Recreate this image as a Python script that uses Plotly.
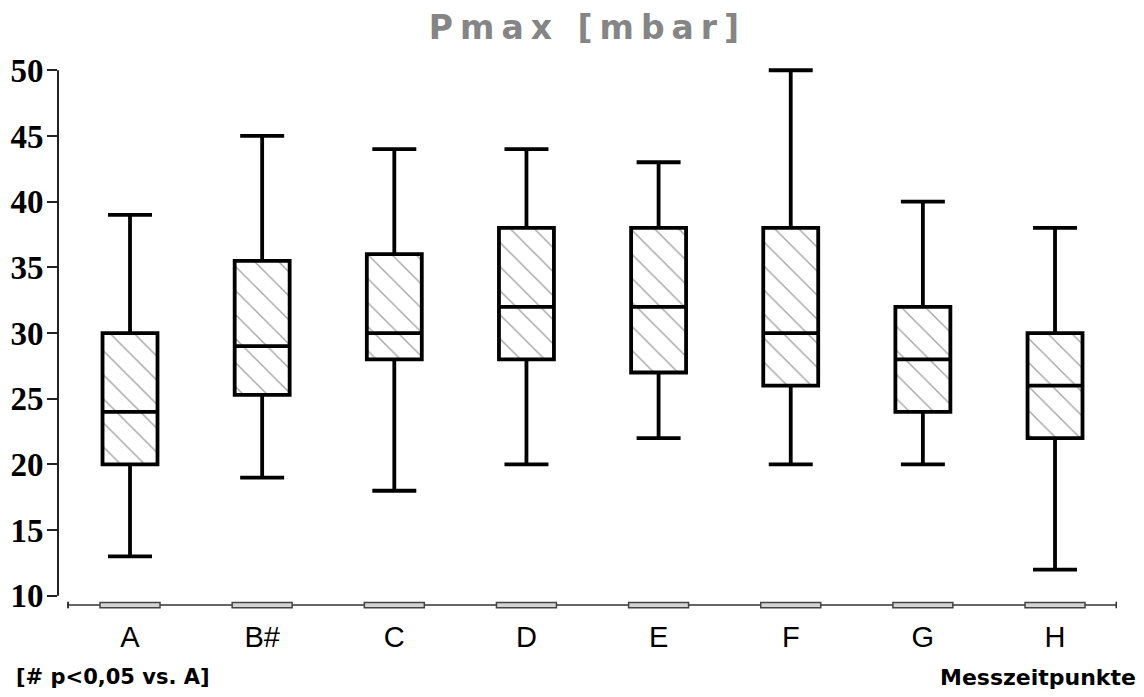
import plotly.graph_objects as go

categories = ["A", "B#", "C", "D", "E", "F", "G", "H"]
minimum = [13, 19, 18, 20, 22, 20, 20, 12]
q1 = [20, 25.3, 28, 28, 27, 26, 24, 22]
median = [24, 29, 30, 32, 32, 30, 28, 26]
q3 = [30, 35.5, 36, 38, 38, 38, 32, 30]
maximum = [39, 45, 44, 44, 43, 50, 40, 38]
y_ticks = [10, 15, 20, 25, 30, 35, 40, 45, 50]

xpos = list(range(len(categories)))
box_w = 0.416

fig = go.Figure()

# hatched box bodies
fig.add_trace(go.Bar(
    x=xpos, y=[b - a for a, b in zip(q1, q3)], base=q1, width=box_w,
    marker=dict(color="white", line=dict(width=0),
                pattern=dict(shape="\\", fgcolor="#4a4a4a", bgcolor="white",
                             size=17, solidity=0.08)),
    hoverinfo="skip", showlegend=False,
))

# box outlines, medians, whiskers
fig.add_trace(go.Box(
    x=xpos, q1=q1, median=median, q3=q3, lowerfence=minimum, upperfence=maximum,
    width=box_w, whiskerwidth=0.8, fillcolor="rgba(0,0,0,0)",
    line=dict(color="black", width=3.8), boxpoints=False,
    hoverinfo="skip", showlegend=False,
))

shapes = []
# y axis line from 10 to 50
shapes.append(dict(type="line", xref="paper", yref="y", x0=0, x1=0,
                   y0=y_ticks[0], y1=y_ticks[-1], line=dict(color="#222", width=2)))
# bottom base line
base_y = 9.3
shapes.append(dict(type="line", xref="x", yref="y", x0=-0.469, x1=7.465,
                   y0=base_y, y1=base_y, line=dict(color="#333", width=1.5)))
for xe in (-0.469, 7.465):
    shapes.append(dict(type="line", xref="x", yref="y", x0=xe, x1=xe,
                       y0=base_y - 0.25, y1=base_y + 0.25, line=dict(color="#333", width=2)))
for i in xpos:
    shapes.append(dict(type="rect", xref="x", yref="y", x0=i - 0.227, x1=i + 0.227,
                       y0=base_y - 0.2, y1=base_y + 0.2, fillcolor="#d4d4d4",
                       line=dict(color="#444", width=1.5), layer="above"))

fig.update_layout(
    width=1144, height=697,
    margin=dict(l=58, r=27, t=65, b=88, autoexpand=False),
    paper_bgcolor="white", plot_bgcolor="white",
    shapes=shapes,
    bargap=0,
    title=dict(text='<span style="letter-spacing:7px">Pmax [mbar]</span>',
               x=0.5, xref="paper", xanchor="center", y=0.96, yanchor="middle",
               font=dict(family="DejaVu Sans", size=33, color="#858585", weight="bold")),
    xaxis=dict(range=[-0.545, 7.469], tickvals=xpos, ticktext=categories,
               showgrid=False, zeroline=False, showline=False, ticks="",
               ticklabelstandoff=8, automargin=False,
               tickfont=dict(family="Liberation Sans, Arial", size=29, color="black")),
    yaxis=dict(range=[9.0, 50.4], tickvals=y_ticks, showgrid=False, zeroline=False,
               showline=False, ticks="outside", ticklen=10, tickwidth=2, tickcolor="#222",
               automargin=False, ticklabelstandoff=-3,
               tickfont=dict(family="Liberation Serif", size=33, color="black", weight="bold")),
    annotations=[
        dict(text="[# p&lt;0,05 vs. A]", xref="paper", yref="paper", x=-0.042, y=-0.125,
             xanchor="left", yanchor="middle", showarrow=False,
             font=dict(family="DejaVu Sans", size=21, color="black", weight="bold")),
        dict(text="Messzeitpunkte", xref="paper", yref="paper", x=1.0198, y=-0.125,
             xanchor="right", yanchor="middle", showarrow=False,
             font=dict(family="DejaVu Sans", size=22, color="black", weight="bold")),
    ],
)

fig.write_html("out.html")
